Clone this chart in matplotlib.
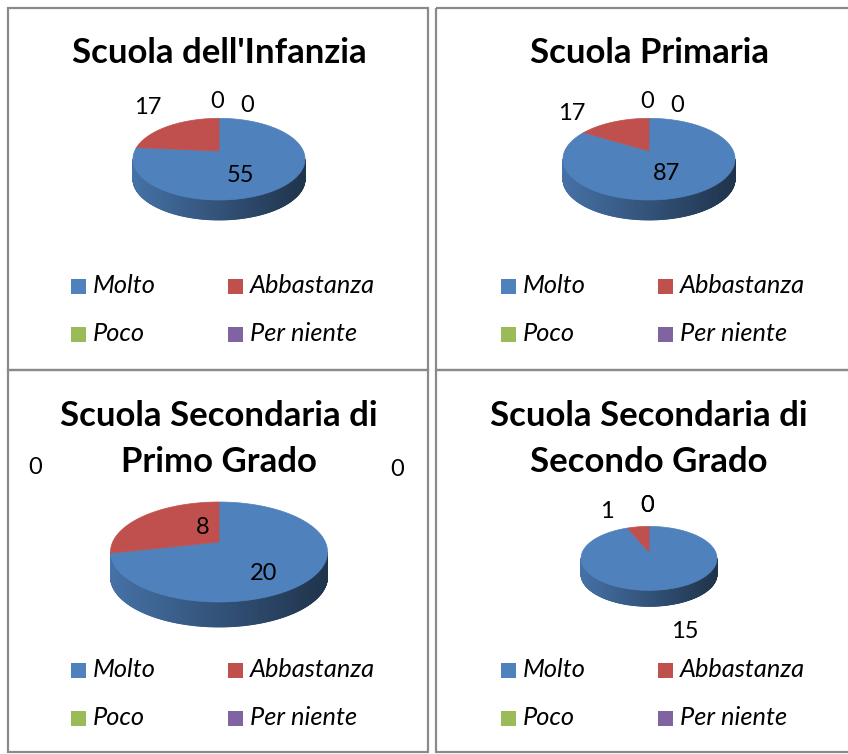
import matplotlib
matplotlib.use("Agg")
import matplotlib.pyplot as plt
from matplotlib.patches import Polygon, Rectangle
from matplotlib.colors import to_rgb
import numpy as np

# ---------------- data ----------------
categories = ["Molto", "Abbastanza", "Poco", "Per niente"]
titles = [
    ["Scuola dell'Infanzia"],
    ["Scuola Primaria"],
    ["Scuola Secondaria di", "Primo Grado"],
    ["Scuola Secondaria di", "Secondo Grado"],
]
infanzia = [55, 17, 0, 0]
primaria = [87, 17, 0, 0]
secondaria_primo = [20, 8, 0, 0]
secondaria_secondo = [15, 1, 0, 0]
series = [infanzia, primaria, secondaria_primo, secondaria_secondo]
colors = ["#4F81BD", "#C0504D", "#9BBB59", "#8064A2"]

# ---------------- layout (pixels) ----------------
FONT = "Lato"
PERSP = 0.2
panels = [
    dict(rect=(8, 8, 420, 362), dx=0, title_y=[63], cx=219, vy=151, A=84.3, B=39.2, depth=20,
         legend_y=[286, 334],
         label_xy=[(240, 175), (148, 108), (217, 101), (247, 105)]),
    dict(rect=(436, 8, 420, 362), dx=430, title_y=[63], cx=649, vy=151, A=84.3, B=39.2, depth=20,
         legend_y=[286, 334],
         label_xy=[(666, 174), (572, 113), (647, 101), (677, 105)]),
    dict(rect=(8, 370, 420, 382), dx=0, title_y=[426, 472], cx=219, vy=542, A=106.3, B=48, depth=25,
         legend_y=[670, 718],
         label_xy=[(264, 574), (203, 527), (35, 467), (397, 470)]),
    dict(rect=(436, 370, 420, 382), dx=430, title_y=[426, 472], cx=649, vy=552, A=66.6, B=30.7, depth=16,
         legend_y=[670, 718],
         label_xy=[(685, 632), (607, 511), (647, 506), (647, 506)]),
]


def proj(cx, vy, A, B, k, phi_deg):
    phi = np.radians(phi_deg)
    w = 1.0 / (1.0 + k * np.sin(phi))
    return cx + A * np.cos(phi) * w, vy - B * np.sin(phi) * w


def pie3d(ax, values, cx, vy, A, B, depth, cols, k=PERSP,
          shade_left=0.88, shade_right=0.40):
    total = float(sum(values))
    cum = np.concatenate([[0.0], np.cumsum(values)]) / total * 360.0  # clockwise from 12 o'clock
    # side wall: visible between the two silhouette points
    edge = np.degrees(np.arcsin(k))
    th = np.linspace(180 + edge, 360 - edge, 361)
    xl = proj(cx, vy, A, B, k, 180 + edge)[0]
    xr = proj(cx, vy, A, B, k, 360 - edge)[0]
    for t0, t1 in zip(th[:-1], th[1:]):
        tm = 0.5 * (t0 + t1)
        d = (90.0 - tm) % 360.0
        idx = int(np.searchsorted(cum, d, side="right") - 1)
        idx = min(max(idx, 0), len(values) - 1)
        base = np.array(to_rgb(cols[idx]))
        xm = proj(cx, vy, A, B, k, tm)[0]
        s = (xm - xl) / (xr - xl)
        f = shade_left + (shade_right - shade_left) * s
        c = np.clip(base * f, 0, 1)
        x0, y0 = proj(cx, vy, A, B, k, t0)
        x1, y1 = proj(cx, vy, A, B, k, t1)
        p = [(x0, y0), (x1, y1), (x1, y1 + depth), (x0, y0 + depth)]
        ax.add_patch(Polygon(p, closed=True, fc=c, ec=c, lw=0.6, zorder=2))
    # top faces
    for i, v in enumerate(values):
        if v <= 0:
            continue
        ang = np.linspace(90 - cum[i], 90 - cum[i + 1], 300)
        xs, ys = proj(cx, vy, A, B, k, ang)
        poly = [(cx, vy)] + list(zip(xs, ys))
        ax.add_patch(Polygon(poly, closed=True, fc=cols[i], ec=cols[i], lw=0.5, zorder=3))


fig = plt.figure(figsize=(8.48, 7.54), dpi=100)
ax = fig.add_axes([0, 0, 1, 1])
ax.set_xlim(0, 848)
ax.set_ylim(754, 0)
ax.axis("off")

for p, vals, ttl in zip(panels, series, titles):
    x0, y0, w, h = p["rect"]
    ax.add_patch(Rectangle((x0, y0), w, h, fill=False, ec="#8a8a8a", lw=1.6, zorder=1))
    # title
    for line, ty in zip(ttl, p["title_y"]):
        ax.text(p["cx"], ty, line, ha="center", va="baseline", fontsize=25,
                fontweight="bold", family=FONT, color="black", zorder=5)
    # pie
    pie3d(ax, vals, p["cx"], p["vy"], p["A"], p["B"], p["depth"], colors)
    # data labels
    for v, (lx, ly) in zip(vals, p["label_xy"]):
        ax.text(lx, ly, str(v), ha="center", va="center", fontsize=17,
                family=FONT, color="black", zorder=6)
    # legend
    col_x = [71 + p["dx"], 228 + p["dx"]]
    for kk, cat in enumerate(categories):
        r, c = divmod(kk, 2)
        ly = p["legend_y"][r]
        ax.add_patch(Rectangle((col_x[c], ly - 7.5), 15, 15, fc=colors[kk], ec="none", zorder=4))
        ax.text(col_x[c] + 22, ly + 7, cat, ha="left", va="baseline", fontsize=18.3,
                style="italic", family=FONT, color="black", zorder=5)

fig.savefig("out.png", dpi=100, facecolor="white")
